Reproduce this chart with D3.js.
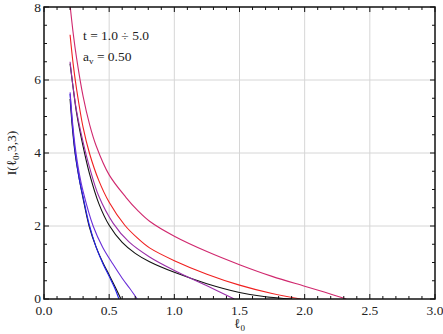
<!DOCTYPE html>
<html>
<head>
<meta charset="utf-8">
<script src="https://cdn.jsdelivr.net/npm/d3@7"></script>
<style>
  body { margin: 0; background: #fff; }
  text { font-family: "Liberation Serif", "DejaVu Serif", serif; fill: #222; }
</style>
</head>
<body>
<div id="chart"></div>
<script>
// curves I(l0,3,3) as [l0, I]
const crimsonCurve = [[0.2,8.05],[0.225,7.25],[0.25,6.6],[0.3,5.55],[0.35,4.78],[0.4,4.2],[0.5,3.4],[0.63,2.78],[0.72,2.42],[0.81,2.13],[1.0,1.72],[1.25,1.3],[1.5,0.94],[1.75,0.62],[2.0,0.35],[2.15,0.19],[2.32,0]];
const redCurve = [[0.2,7.24],[0.225,6.4],[0.25,5.75],[0.3,4.7],[0.35,3.98],[0.42,3.25],[0.5,2.65],[0.62,2.02],[0.72,1.66],[0.81,1.4],[1.0,1.05],[1.25,0.68],[1.5,0.38],[1.75,0.15],[1.97,0]];
const purpleCurve = [[0.2,6.5],[0.225,5.75],[0.25,5.15],[0.3,4.3],[0.35,3.6],[0.42,2.82],[0.53,2.08],[0.65,1.57],[0.81,1.15],[1.0,0.78],[1.25,0.36],[1.46,0]];
const blackUpper = [[0.2,6.45],[0.225,5.75],[0.25,5.1],[0.3,4.18],[0.35,3.42],[0.42,2.62],[0.5,2.02],[0.6,1.55],[0.7,1.25],[0.81,1.02],[1.0,0.73],[1.25,0.42],[1.5,0.18],[1.7,0.06],[1.9,0]];
const violetCurve = [[0.2,5.66],[0.22,4.8],[0.24,4.15],[0.27,3.45],[0.3,2.95],[0.377,2.0],[0.45,1.42],[0.53,0.95],[0.6,0.57],[0.66,0.28],[0.715,0]];
const blueCurve = [[0.2,5.62],[0.22,4.7],[0.24,4.0],[0.27,3.3],[0.3,2.8],[0.346,2.05],[0.4,1.42],[0.454,0.95],[0.5,0.62],[0.54,0.32],[0.575,0]];
const blackLower = [[0.2,5.48],[0.22,4.6],[0.24,3.95],[0.27,3.3],[0.3,2.75],[0.346,2.0],[0.4,1.42],[0.454,0.98],[0.5,0.66],[0.55,0.3],[0.59,0]];

const curves = [
  {name: 'blackLower', color: '#111', pts: blackLower},
  {name: 'blue', color: '#2222ee', pts: blueCurve},
  {name: 'violet', color: '#6a2ed8', pts: violetCurve},
  {name: 'blackUpper', color: '#111', pts: blackUpper},
  {name: 'purple', color: '#9a2ea8', pts: purpleCurve},
  {name: 'red', color: '#f02020', pts: redCurve},
  {name: 'crimson', color: '#d0286e', pts: crimsonCurve}
];

const xMajor = [0, 0.5, 1.0, 1.5, 2.0, 2.5, 3.0];
const yMajor = [0, 2, 4, 6, 8];
const xTickLabels = ['0.0','0.5','1.0','1.5','2.0','2.5','3.0'];
const yTickLabels = ['0','2','4','6','8'];

const width = 443, height = 334;
const margin = {top: 7, right: 8, bottom: 35, left: 44};

const svg = d3.select('#chart').append('svg')
  .attr('width', width)
  .attr('height', height);

const x = d3.scaleLinear().domain([0, 3]).range([margin.left, width - margin.right]);
const y = d3.scaleLinear().domain([0, 8]).range([height - margin.bottom, margin.top]);

// grid
svg.append('g').selectAll('line').data(xMajor.slice(1, -1)).join('line')
  .attr('x1', d => x(d)).attr('x2', d => x(d))
  .attr('y1', y(0)).attr('y2', y(8))
  .attr('stroke', '#d6d6d6').attr('stroke-width', 1);
svg.append('g').selectAll('line').data(yMajor.slice(1, -1)).join('line')
  .attr('y1', d => y(d)).attr('y2', d => y(d))
  .attr('x1', x(0)).attr('x2', x(3))
  .attr('stroke', '#d6d6d6').attr('stroke-width', 1);

// curves
svg.append('clipPath').attr('id', 'plotClip').append('rect')
  .attr('x', x(0)).attr('y', y(8)).attr('width', x(3) - x(0)).attr('height', y(0) - y(8));

const line = d3.line()
  .x(d => x(d[0]))
  .y(d => y(d[1]))
  .curve(d3.curveCatmullRom.alpha(0.5));

svg.append('g').attr('clip-path', 'url(#plotClip)')
  .selectAll('path').data(curves).join('path')
  .attr('d', d => line(d.pts))
  .attr('fill', 'none')
  .attr('stroke', d => d.color)
  .attr('stroke-width', 1.1);

// frame with inward ticks on all sides
const xMinor = d3.range(0, 3.0001, 0.1);
const yMinor = d3.range(0, 8.0001, 0.5);
const ticks = svg.append('g').attr('stroke', '#111').attr('stroke-width', 1);
const isMajorX = v => Math.abs(v * 2 - Math.round(v * 2)) < 1e-6;
const isMajorY = v => Math.abs(v / 2 - Math.round(v / 2)) < 1e-6;
ticks.selectAll('.tb').data(xMinor).join('line').attr('class', 'tb')
  .attr('x1', d => x(d)).attr('x2', d => x(d))
  .attr('y1', y(0)).attr('y2', d => y(0) - (isMajorX(d) ? 5 : 3));
ticks.selectAll('.tt').data(xMinor).join('line').attr('class', 'tt')
  .attr('x1', d => x(d)).attr('x2', d => x(d))
  .attr('y1', y(8)).attr('y2', d => y(8) + (isMajorX(d) ? 5 : 3));
ticks.selectAll('.tl').data(yMinor).join('line').attr('class', 'tl')
  .attr('y1', d => y(d)).attr('y2', d => y(d))
  .attr('x1', x(0)).attr('x2', d => x(0) + (isMajorY(d) ? 5 : 3));
ticks.selectAll('.tr').data(yMinor).join('line').attr('class', 'tr')
  .attr('y1', d => y(d)).attr('y2', d => y(d))
  .attr('x1', x(3)).attr('x2', d => x(3) - (isMajorY(d) ? 5 : 3));

svg.append('rect')
  .attr('x', x(0)).attr('y', y(8))
  .attr('width', x(3) - x(0)).attr('height', y(0) - y(8))
  .attr('fill', 'none').attr('stroke', '#111').attr('stroke-width', 1.5);

// tick labels
svg.append('g').selectAll('text').data(xMajor).join('text')
  .attr('x', d => x(d)).attr('y', y(0) + 15.5)
  .attr('text-anchor', 'middle').attr('font-size', 13.5)
  .text((d, i) => xTickLabels[i]);
svg.append('g').selectAll('text').data(yMajor).join('text')
  .attr('x', x(0) - 3).attr('y', d => y(d) + (d === 8 ? 5 : 3.5))
  .attr('text-anchor', 'end').attr('font-size', 13.5)
  .text((d, i) => yTickLabels[i]);

// axis titles
const xt = svg.append('text')
  .attr('x', x(1.5)).attr('y', y(0) + 29)
  .attr('text-anchor', 'middle').attr('font-size', 13.5);
xt.append('tspan').text('ℓ');
xt.append('tspan').attr('font-size', 9).attr('dy', 3).text('0');

const yt = svg.append('text')
  .attr('transform', `translate(16,${y(4)}) rotate(-90)`)
  .attr('text-anchor', 'middle').attr('font-size', 13.5);
yt.append('tspan').text('I(ℓ');
yt.append('tspan').attr('font-size', 9).attr('dy', 3).text('0');
yt.append('tspan').attr('dy', -3).text(',3,3)');

// annotation
svg.append('text').attr('x', 83).attr('y', 40).attr('font-size', 13.5)
  .text('t = 1.0 ÷ 5.0');
const av = svg.append('text').attr('x', 83).attr('y', 61).attr('font-size', 13.5);
av.append('tspan').text('a');
av.append('tspan').attr('font-size', 9).attr('dy', 3).text('v');
av.append('tspan').attr('dy', -3).text(' = 0.50');
</script>
</body>
</html>
